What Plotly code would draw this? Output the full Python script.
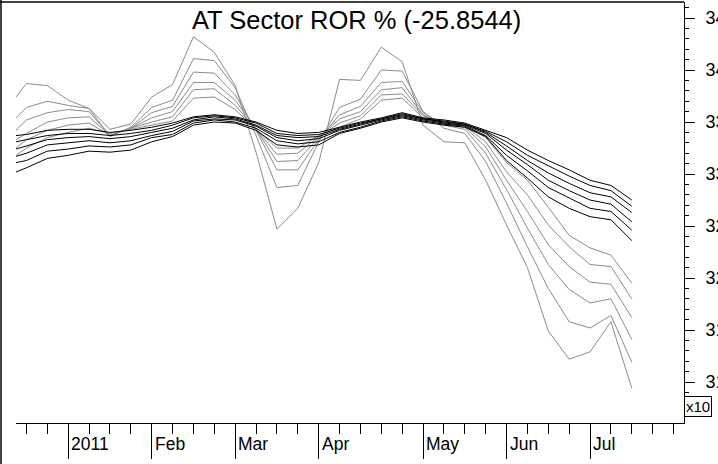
import plotly.graph_objects as go

# week index (0 = first week of Jan 2011); first point sits at the left clip edge
WEEKS = [-2.5, -2, -1, 0, 1, 2, 3, 4, 5, 6, 7, 8, 9, 10, 11, 12, 13, 14, 15,
         16, 17, 18, 19, 20, 21, 22, 23, 24, 25, 26, 27]

MONTH_WEEKS = [0, 4, 8, 12, 17, 21, 25]
MONTH_LABELS = ["2011", "Feb", "Mar", "Apr", "May", "Jun", "Jul"]

# gray series (most volatile last)
G1 = [331.8, 332.5, 333.5, 334.0, 334.4, 333.9, 334.3, 334.7, 335.1, 337.3, 337.4,
      336.2, 334.3, 332.5, 332.5, 333.7, 334.5, 335.3, 337.1, 337.3, 335.4, 335.0,
      334.7, 333.5, 331.1, 329.4, 326.8, 324.1, 322.9, 322.2, 319.5]
G2 = [332.5, 333.3, 334.2, 334.7, 334.9, 333.7, 334.4, 335.0, 335.5, 338.1, 338.2,
      336.6, 334.3, 331.9, 332.0, 333.6, 334.9, 335.6, 337.6, 337.7, 335.6, 334.9,
      334.6, 333.1, 330.2, 328.0, 325.1, 323.0, 321.3, 321.1, 318.0]
G3 = [333.3, 333.9, 335.0, 335.4, 335.5, 333.7, 334.4, 335.4, 336.0, 338.8, 338.8,
      337.1, 334.3, 331.2, 331.3, 333.5, 335.3, 336.0, 338.1, 338.3, 335.7, 334.8,
      334.5, 332.6, 329.4, 326.4, 323.2, 321.1, 319.6, 319.4, 316.2]
G4 = [334.2, 335.2, 335.9, 336.2, 336.0, 333.7, 334.4, 335.9, 336.5, 339.8, 339.7,
      337.6, 334.2, 330.4, 330.4, 333.3, 335.7, 336.5, 338.8, 338.9, 335.9, 334.7,
      334.3, 332.0, 328.5, 324.8, 321.3, 318.9, 317.6, 318.0, 314.1]
G5 = [335.4, 336.4, 337.0, 336.6, 336.3, 333.6, 334.5, 336.4, 337.1, 341.1, 340.9,
      338.3, 333.7, 328.7, 328.9, 333.1, 336.4, 337.2, 340.0, 339.9, 336.0, 334.4,
      333.9, 331.2, 327.2, 323.0, 319.0, 315.8, 315.2, 316.4, 311.9]
G6 = [337.4, 338.7, 338.5, 337.1, 336.3, 334.3, 334.8, 337.4, 338.6, 343.2, 341.7,
      338.5, 332.1, 324.7, 326.7, 331.1, 339.1, 339.0, 342.2, 340.8, 334.7, 333.1,
      333.0, 329.4, 325.1, 321.0, 314.9, 312.2, 312.9, 315.8, 309.4]

# black series
B1 = [333.7, 333.8, 334.2, 334.3, 334.3, 334.0, 334.2, 334.5, 334.9, 335.5, 335.7,
      335.5, 335.0, 334.2, 333.9, 334.0, 334.5, 335.0, 335.4, 335.9, 335.4, 335.2,
      334.9, 334.2, 333.5, 332.3, 331.3, 330.4, 329.4, 328.9, 327.5]
B2 = [333.1, 333.3, 333.7, 333.9, 333.9, 333.7, 333.9, 334.2, 334.7, 335.4, 335.6,
      335.4, 334.9, 333.9, 333.7, 333.8, 334.4, 334.9, 335.3, 335.8, 335.3, 335.1,
      334.8, 334.1, 333.1, 331.8, 330.8, 329.8, 328.9, 328.4, 326.9]
B3 = [332.4, 332.7, 333.3, 333.5, 333.6, 333.4, 333.6, 334.0, 334.4, 335.2, 335.5,
      335.3, 334.7, 333.7, 333.5, 333.6, 334.3, 334.8, 335.3, 335.7, 335.3, 335.0,
      334.8, 334.0, 332.7, 331.3, 330.1, 329.1, 328.2, 327.8, 326.3]
B4 = [331.7, 332.0, 332.8, 333.0, 333.2, 333.0, 333.2, 333.7, 334.1, 335.1, 335.3,
      335.2, 334.6, 333.5, 333.2, 333.4, 334.2, 334.7, 335.2, 335.6, 335.2, 334.9,
      334.7, 333.9, 332.3, 330.9, 329.4, 328.4, 327.5, 327.1, 325.4]
B5 = [331.1, 331.3, 332.2, 332.4, 332.7, 332.6, 332.8, 333.5, 333.8, 334.9, 335.2,
      335.0, 334.4, 333.2, 332.9, 333.1, 334.0, 334.5, 335.1, 335.5, 335.1, 334.8,
      334.6, 333.7, 331.8, 330.3, 328.7, 327.7, 326.7, 326.4, 324.6]
B6 = [330.2, 330.6, 331.5, 331.8, 332.2, 332.1, 332.3, 333.1, 333.6, 334.7, 335.0,
      334.9, 334.2, 332.8, 332.6, 332.8, 333.9, 334.4, 335.0, 335.4, 335.0, 334.7,
      334.5, 333.6, 331.3, 329.6, 327.8, 326.7, 325.9, 325.6, 323.6]

Y_TICKS = [310, 315, 320, 325, 330, 335, 340, 345]

FONT = "Liberation Sans, Arial, sans-serif"
W, H = 718, 464
ML, MR, MT, MB = 16, 34, 2, 41
PW, PH = W - ML - MR, H - MT - MB

fig = go.Figure()

for series in [G1, G2, G3, G4, G5, G6]:
    fig.add_trace(go.Scatter(
        x=WEEKS, y=series, mode="lines",
        line=dict(color="#8c8c8c", width=1),
        hoverinfo="skip"
    ))

for series in [B1, B2, B3, B4, B5, B6]:
    fig.add_trace(go.Scatter(
        x=WEEKS, y=series, mode="lines",
        line=dict(color="#000000", width=1),
        hoverinfo="skip"
    ))

fig.update_layout(
    width=W,
    height=H,
    margin=dict(l=ML, r=MR, t=MT, b=MB, autoexpand=False),
    paper_bgcolor="white",
    plot_bgcolor="white",
    showlegend=False,
    font=dict(family=FONT, color="black"),
)

fig.update_xaxes(
    range=[-2.5, 29.5],
    tickmode="array",
    tickvals=MONTH_WEEKS,
    showticklabels=False,
    ticks="outside",
    ticklen=35,
    tickcolor="black",
    tickwidth=1,
    minor=dict(dtick=1, tick0=0, ticks="outside", ticklen=10,
               tickcolor="black", tickwidth=1),
    showline=True,
    linecolor="black",
    linewidth=1,
    showgrid=False,
    zeroline=False,
)

fig.update_yaxes(
    side="right",
    range=[306.06, 346.54],
    tickmode="array",
    tickvals=Y_TICKS,
    ticks="outside",
    ticklen=10,
    tickcolor="black",
    tickwidth=1,
    ticklabelstandoff=7,
    minor=dict(dtick=1, ticks="outside", ticklen=4,
               tickcolor="black", tickwidth=1),
    tickfont=dict(size=18, family=FONT),
    showline=True,
    linecolor="black",
    linewidth=1,
    showgrid=False,
    zeroline=False,
    automargin=False,
)

# month labels, left-aligned just right of their long tick
for wk, lab in zip(MONTH_WEEKS, MONTH_LABELS):
    fig.add_annotation(
        x=wk, y=0, xref="x", yref="paper",
        text=lab, showarrow=False,
        xanchor="left", yanchor="middle",
        xshift=1, yshift=-21,
        font=dict(size=17.5, family=FONT, color="black"),
    )

# title (centred at x=356 px of the figure)
fig.add_annotation(
    x=(356 - ML) / PW, y=1, xref="paper", yref="paper",
    xanchor="center", yanchor="middle",
    yshift=-18,
    text="AT Sector ROR % (-25.8544)", showarrow=False,
    font=dict(size=25.5, family=FONT, color="black"),
)

# scale box
fig.add_annotation(
    x=1, y=0, xref="paper", yref="paper",
    xanchor="left", yanchor="bottom",
    xshift=0, yshift=6,
    text="x10", showarrow=False,
    bordercolor="black", borderwidth=1, borderpad=1,
    bgcolor="white",
    font=dict(size=15, family=FONT, color="black"),
)

# outer frame: left edge and top edge
fig.add_shape(type="line", xref="paper", yref="paper",
              x0=-15 / PW, x1=-15 / PW, y0=-(MB + 2) / PH, y1=1 + MT / PH,
              line=dict(color="black", width=1.5))
fig.add_shape(type="line", xref="paper", yref="paper",
              x0=-16 / PW, x1=1, y0=1, y1=1,
              line=dict(color="black", width=1.5))

fig.write_html(
    "out.html",
    config={"displayModeBar": False},
    post_script="document.body.style.margin='0';",
)
